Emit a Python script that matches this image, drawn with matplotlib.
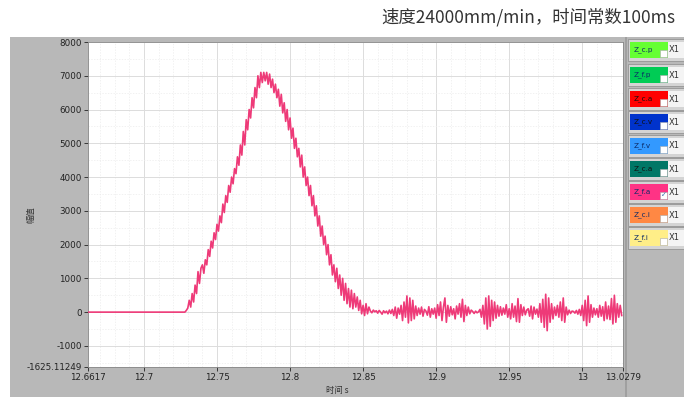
import numpy as np
import matplotlib
matplotlib.use("Agg")
import matplotlib.pyplot as plt
from matplotlib.patches import Rectangle

plt.rcParams['font.family'] = ['Noto Sans CJK SC', 'DejaVu Sans']

title = "速度24000mm/min，时间常数100ms"
x_label = "时间 s"
y_label = "幅值"

# flat segment before the motion
flat_t = [12.6617, 12.727]
flat_v = [0, 0]

# signal sampled every 1 ms starting at 12.728 s
sig_start = 12.728
sig_step = 0.001
sig_v = [
    0, 50, 120, 350, 150, 550, 300, 800, 550, 1200,
    850, 1300, 1400, 1150, 1550, 1400, 1850, 1650, 2100, 1900,
    2350, 2150, 2600, 2400, 2850, 2650, 3200, 2950, 3450, 3250,
    3750, 3550, 4000, 3800, 4250, 4100, 4600, 4350, 4950, 4650,
    5350, 4950, 5700, 5400, 6000, 5750, 6350, 6050, 6650, 6350,
    7000, 6650, 7100, 6800,
    7100, 6850, 7100, 6750, 7050, 6650, 6900, 6500, 6750, 6350,
    6600, 6100, 6450, 5900, 6200, 5650, 6000, 5400, 5750, 5150,
    5450, 4850, 5150, 4600, 4850, 4300, 4650, 4000, 4300, 3750,
    4000, 3450, 3750, 3150, 3450, 2850, 3150, 2550, 2850, 2250,
    2550, 2000, 2250, 1700, 2000, 1400, 1700, 1100, 1400, 900,
    1300, 700, 1100, 500, 1000, 350, 850, 250, 700, 150,
    650, 100, 550, 150, 450, 50, 350, -50,
    200, -100, 250, -50, 150, 30, -20, 60, 10, 40,
    -30, 50, 0, -60, 40, -20, 30, -50, 60, -40,
    80, -100, 150, -180, 120, -60, 200, -250, 300, -150,
    480, -320, 420, -250, 350, -200, 180, -100, 120, -60,
    150, -120, 80, 30, -90, 160, -150, 100, -60, 120,
    -180, 220, -100, 300, -250, 150, 420, -300, 200, -120,
    160, -80, 100, -200, 180, -60, 250, -150, 380, -280,
    200, -100, 150, -50, 60, 20, -40, 30, -20, 10,
    80, -150, 200, -350, 420, -500, 480, -420, 350, -250,
    300, -180, 200, -120, 160, -90, 120, -60, 220, -150,
    100, -200, 250, -150, 180, -280, 400, -300, 220, -100,
    150, -80, 60, 100, -120, 180, -200, 150, -60, 90,
    -150, 250, -300, 380, -450, 530, -550, 420, -300, 250,
    -200, 150, -100, 200, -150, 300, -250, 420, -300, 150,
    -80, 60, -40, 30, 20, -30, 50, -60, 80, -100,
    200, -250, 350, -400, 480, -300, 220, -150, 120, -80,
    100, -150, 200, -120, 160, -250, 300, -200, 180, -220,
    400, -350, 500, -300, 250, -150, 200, -100,
]

x_ticks = [12.6617, 12.7, 12.75, 12.8, 12.85, 12.9, 12.95, 13.0, 13.0279]
x_tick_labels = ["12.6617", "12.7", "12.75", "12.8", "12.85", "12.9", "12.95", "13", "13.0279"]
y_ticks = [-1625.11249, -1000, 0, 1000, 2000, 3000, 4000, 5000, 6000, 7000, 8000]
y_tick_labels = ["-1625.11249", "-1000", "0", "1000", "2000", "3000", "4000", "5000", "6000", "7000", "8000"]

legend_names = ["Z_c.p", "Z_f.p", "Z_c.a", "Z_c.v", "Z_f.v", "Z_c.a", "Z_f.a", "Z_c.i", "Z_f.i"]
legend_colors = ["#66ff33", "#00cc55", "#ff0000", "#0033cc", "#3399ff", "#007766", "#ff3385", "#ff8844", "#ffee88"]
legend_checked = [False, False, False, False, False, False, True, False, False]

W, H = 684, 397
fig = plt.figure(figsize=(W / 100, H / 100), dpi=100)
fig.patch.set_facecolor("white")

def fx(px):
    return px / W

def fy(py):
    return 1 - py / H

# gray panel
fig.patches.append(Rectangle((fx(10), 0), 1 - fx(10), fy(37), transform=fig.transFigure,
                             facecolor="#b8b8b8", edgecolor="none", zorder=-5))
# panel divider
fig.patches.append(Rectangle((fx(625), 0), fx(2), fy(37), transform=fig.transFigure,
                             facecolor="#a0a0a0", edgecolor="none", zorder=-4))

ax = fig.add_axes([fx(88), fy(367), fx(623) - fx(88), fy(42) - fy(367)])
ax.set_zorder(10)
ax.set_facecolor("white")

sig_t = sig_start + sig_step * np.arange(len(sig_v))
t_all = np.concatenate([flat_t, sig_t])
v_all = np.concatenate([flat_v, sig_v])
ax.plot(t_all, v_all, color="#ee3a78", lw=1.2, zorder=3)

ax.set_xlim(x_ticks[0], x_ticks[-1])
ax.set_ylim(y_ticks[0], y_ticks[-1])
ax.set_xticks(x_ticks)
ax.set_xticklabels(x_tick_labels)
ax.set_yticks(y_ticks)
ax.set_yticklabels(y_tick_labels)
ax.set_xticks(np.arange(12.67, 13.03, 0.01), minor=True)
ax.set_yticks(np.arange(-1500, 8000, 500), minor=True)
ax.tick_params(axis="both", which="major", labelsize=6.3, colors="#222222", length=3, width=0.6,
               direction="out", pad=1.5)
ax.tick_params(axis="both", which="minor", length=0)
for lab in ax.get_xticklabels() + ax.get_yticklabels():
    lab.set_family("DejaVu Sans")
ax.grid(True, which="major", color="#dcdcdc", lw=0.7)
ax.grid(True, which="minor", color="#ececec", lw=0.5, ls=(0, (2, 2)))
ax.set_axisbelow(True)
for s in ax.spines.values():
    s.set_color("#888888")
    s.set_linewidth(0.6)

fig.text(fx(31), fy(215), y_label, rotation=90, fontsize=6, color="#333333", ha="center", va="center")
fig.text(fx(337), fy(391), x_label, fontsize=6, color="#333333", ha="center", va="center")
fig.text(fx(381), fy(17), title, fontsize=12.5, color="#333333", ha="left", va="center")

# legend entries
centers = [50, 75, 99, 122, 146, 169, 192, 215, 238]
for name, col, chk, cy in zip(legend_names, legend_colors, legend_checked, centers):
    fig.patches.append(Rectangle((fx(628), fy(cy + 11)), fx(56), fy(cy - 11) - fy(cy + 11),
                                 transform=fig.transFigure, facecolor="#d4d4d4", edgecolor="#8a8a8a",
                                 lw=0.5, zorder=1))
    fig.patches.append(Rectangle((fx(630), fy(cy + 8)), fx(38), fy(cy - 8) - fy(cy + 8),
                                 transform=fig.transFigure, facecolor=col, edgecolor="none", zorder=2))
    fig.patches.append(Rectangle((fx(668), fy(cy + 8)), fx(16), fy(cy - 8) - fy(cy + 8),
                                 transform=fig.transFigure, facecolor="#f4f4f4", edgecolor="none", zorder=2))
    fig.patches.append(Rectangle((fx(660), fy(cy + 7)), fx(7), fy(cy) - fy(cy + 7),
                                 transform=fig.transFigure, facecolor="white", edgecolor="#aaaaaa",
                                 lw=0.4, zorder=3))
    tcol = "#0b2a66" if col in ("#66ff33", "#00cc55", "#3399ff", "#ff8844", "#ffee88", "#ff3385") else "#111111"
    fig.text(fx(634), fy(cy), name, fontsize=5.2, color=tcol, ha="left", va="center",
             family="DejaVu Sans", zorder=4)
    fig.text(fx(669), fy(cy), "X1", fontsize=6, color="#333333", ha="left", va="center",
             family="DejaVu Sans", zorder=4)
    if chk:
        fig.text(fx(663.5), fy(cy + 3.5), "✓", fontsize=5, color="#3366aa", ha="center", va="center",
                 family="DejaVu Sans", zorder=4)

fig.savefig("out.png", dpi=100)
